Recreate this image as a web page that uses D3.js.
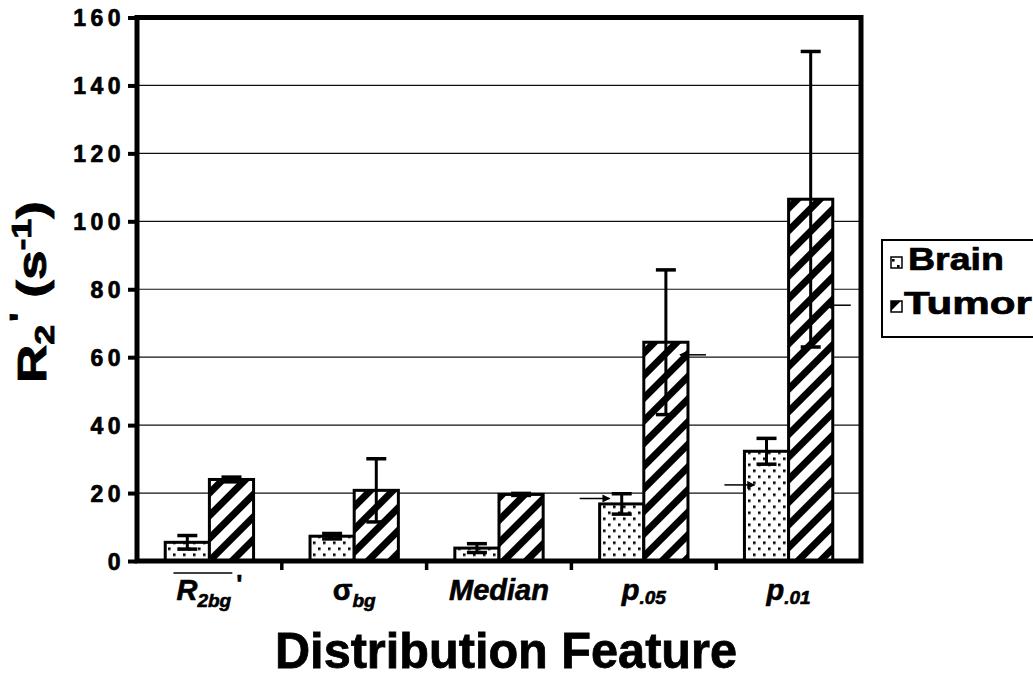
<!DOCTYPE html>
<html>
<head>
<meta charset="utf-8">
<script src="https://cdn.jsdelivr.net/npm/d3@7.9.0/dist/d3.min.js"></script>
<style>
  body { margin: 0; background: #fff; }
  svg { display: block; font-family: "Liberation Sans", Arial, sans-serif; }
</style>
</head>
<body>
<svg width="1033" height="690"></svg>
<script>
// values (R2' in s^-1)
const categories = ['R2bg', 'sigma', 'Median', 'p05', 'p01'];
const seriesNames = ['Brain', 'Tumor'];
const brainValues = [5.5, 7.3, 3.8, 16.8, 32.3];
const brainErrors = [2.0, 0.8, 1.3, 3.0, 3.8];
const tumorValues = [24.0, 20.8, 19.6, 64.4, 106.5];
const tumorErrors = [0.7, 9.3, 0.3, 21.3, 43.5];
const yTicks = [0, 20, 40, 60, 80, 100, 120, 140, 160];
// small arrows drawn onto some bars
const arrowCats = ['p05', 'p01', 'p05', 'p01'];
const arrowSeries = ['Brain', 'Brain', 'Tumor', 'Tumor'];
const arrowValues = [18.4, 22.4, 60.7, 75.3];

const svg = d3.select('svg');
const margin = { top: 17.5, right: 172, bottom: 129, left: 137 };
const W = 1033 - margin.left - margin.right;
const H = 690 - margin.top - margin.bottom;

const x = d3.scaleBand().domain(categories).range([0, W]).paddingInner(0.39).paddingOuter(0.195);
const xs = d3.scaleBand().domain(seriesNames).range([0, x.bandwidth()]);
const y = d3.scaleLinear().domain([0, 160]).range([H, 0]);

const rows = seriesNames.flatMap((s) => categories.map((c, i) => ({
  cat: c, series: s,
  value: s === 'Brain' ? brainValues[i] : tumorValues[i],
  err: s === 'Brain' ? brainErrors[i] : tumorErrors[i],
})));

// patterns
const defs = svg.append('defs');
let dots = defs.append('pattern').attr('id', 'dots')
  .attr('patternUnits', 'userSpaceOnUse').attr('width', 10).attr('height', 12);
dots.append('rect').attr('width', 10).attr('height', 12).attr('fill', '#fff');
dots.append('rect').attr('x', 1).attr('y', 2).attr('width', 2.6).attr('height', 2.6).attr('fill', '#000');
dots.append('rect').attr('x', 6).attr('y', 8).attr('width', 2.6).attr('height', 2.6).attr('fill', '#000');

let stripes = defs.append('pattern').attr('id', 'stripes')
  .attr('patternUnits', 'userSpaceOnUse').attr('width', 16).attr('height', 16)
  .attr('patternTransform', 'rotate(45)');
stripes.append('rect').attr('width', 16).attr('height', 16).attr('fill', '#fff');
stripes.append('rect').attr('width', 7).attr('height', 16).attr('fill', '#000');

defs.append('marker').attr('id', 'head')
  .attr('viewBox', '0 0 10 10').attr('refX', 9).attr('refY', 5)
  .attr('markerWidth', 10).attr('markerHeight', 8).attr('markerUnits', 'userSpaceOnUse')
  .attr('orient', 'auto')
  .append('path').attr('d', 'M0,0L10,5L0,10z').attr('fill', '#000');

const fillFor = (s) => s === 'Brain' ? 'url(#dots)' : 'url(#stripes)';

const g = svg.append('g').attr('transform', `translate(${margin.left},${margin.top})`);

// gridlines
g.append('g').selectAll('line').data(yTicks.slice(1, -1)).join('line')
  .attr('x1', 0).attr('x2', W)
  .attr('y1', (d) => y(d)).attr('y2', (d) => y(d))
  .attr('stroke', '#111').attr('stroke-width', 1.2);

// y axis
const yAxis = g.append('g').call(d3.axisLeft(y).tickValues(yTicks).tickSize(9).tickPadding(3));
yAxis.select('.domain').remove();
yAxis.selectAll('.tick line').attr('stroke', '#000').attr('stroke-width', 4);
yAxis.selectAll('.tick text')
  .attr('font-family', '"Liberation Sans", Arial, sans-serif')
  .attr('font-size', 23).attr('font-weight', 'bold').attr('fill', '#000')
  .attr('stroke', '#000').attr('stroke-width', 0.7)
  .attr('letter-spacing', 4.5).attr('dy', '0.36em');

// category ticks under the axis
g.append('g').selectAll('line').data(categories.slice(1)).join('line')
  .attr('x1', (d) => x(d) - x.step() * x.paddingInner() / 2)
  .attr('x2', (d) => x(d) - x.step() * x.paddingInner() / 2)
  .attr('y1', H).attr('y2', H + 9)
  .attr('stroke', '#000').attr('stroke-width', 3.5);

// bars
g.append('g').selectAll('rect').data(rows).join('rect')
  .attr('x', (d) => x(d.cat) + xs(d.series))
  .attr('width', xs.bandwidth())
  .attr('y', (d) => y(d.value))
  .attr('height', (d) => y(0) - y(d.value))
  .attr('fill', (d) => fillFor(d.series))
  .attr('stroke', '#000').attr('stroke-width', 3);

// error bars
const eb = g.append('g').selectAll('g').data(rows).join('g')
  .attr('transform', (d) => `translate(${x(d.cat) + xs(d.series) + xs.bandwidth() / 2},0)`);
eb.append('line')
  .attr('y1', (d) => y(d.value - d.err)).attr('y2', (d) => y(d.value + d.err))
  .attr('stroke', '#000').attr('stroke-width', 3);
eb.append('line')
  .attr('x1', -10).attr('x2', 10)
  .attr('y1', (d) => y(d.value + d.err)).attr('y2', (d) => y(d.value + d.err))
  .attr('stroke', '#000').attr('stroke-width', 3.5);
eb.append('line')
  .attr('x1', -10).attr('x2', 10)
  .attr('y1', (d) => y(d.value - d.err)).attr('y2', (d) => y(d.value - d.err))
  .attr('stroke', '#000').attr('stroke-width', 3.5);

// arrows
arrowValues.forEach((v, i) => {
  const left = x(arrowCats[i]) + xs(arrowSeries[i]);
  const fromLeft = arrowSeries[i] === 'Brain';
  const edge = fromLeft ? left : left + xs.bandwidth();
  const x0 = fromLeft ? edge - 20 : edge + 18;
  const x1 = fromLeft ? edge + 10 : edge - 8;
  g.append('line')
    .attr('x1', x0).attr('x2', x1).attr('y1', y(v)).attr('y2', y(v))
    .attr('stroke', '#000').attr('stroke-width', 1.5)
    .attr('marker-end', 'url(#head)');
});

// frame
g.append('rect').attr('width', W).attr('height', H)
  .attr('fill', 'none').attr('stroke', '#000').attr('stroke-width', 5);

// x labels
const labY = H + 39;
const lab = g.append('g').attr('font-weight', 'bold').attr('font-style', 'italic')
  .attr('font-size', 29).attr('text-anchor', 'middle').attr('fill', '#000')
  .attr('stroke', '#000').attr('stroke-width', 0.6);
const cx = (c) => x(c) + x.bandwidth() / 2;

let t1 = lab.append('text').attr('x', cx('R2bg')).attr('y', labY);
t1.append('tspan').text('R');
t1.append('tspan').attr('font-size', 19).attr('dy', 7).text('2bg');
t1.append('tspan').attr('font-size', 26).attr('dy', -14).attr('dx', 5).attr('font-style', 'normal').text('\'');
const bb = t1.node().getBBox();
g.append('line').attr('x1', bb.x - 3).attr('x2', bb.x + bb.width - 10)
  .attr('y1', labY - 27).attr('y2', labY - 27)
  .attr('stroke', '#000').attr('stroke-width', 1.5);

let t2 = lab.append('text').attr('x', cx('sigma')).attr('y', labY);
t2.append('tspan').attr('font-style', 'normal').text('\u03c3');
t2.append('tspan').attr('font-size', 19).attr('dy', 7).text('bg');

lab.append('text').attr('x', cx('Median')).attr('y', labY).text('Median');

let t4 = lab.append('text').attr('x', cx('p05')).attr('y', labY);
t4.append('tspan').text('p');
t4.append('tspan').attr('font-size', 19).attr('dy', 4).text('.05');

let t5 = lab.append('text').attr('x', cx('p01')).attr('y', labY);
t5.append('tspan').text('p');
t5.append('tspan').attr('font-size', 19).attr('dy', 4).text('.01');

// axis titles
svg.append('text').attr('x', 506).attr('y', 668)
  .attr('text-anchor', 'middle').attr('font-weight', 'bold').attr('font-size', 50)
  .attr('stroke', '#000').attr('stroke-width', 0.8)
  .attr('textLength', 462).attr('lengthAdjust', 'spacingAndGlyphs')
  .text('Distribution Feature');

const yt = svg.append('text')
  .attr('transform', 'translate(46,292) rotate(-90)')
  .attr('text-anchor', 'middle').attr('font-weight', 'bold').attr('font-size', 40)
  .attr('stroke', '#000').attr('stroke-width', 0.8)
  .attr('textLength', 182).attr('lengthAdjust', 'spacingAndGlyphs');
yt.append('tspan').text('R');
yt.append('tspan').attr('font-size', 27).attr('dy', 8).text('2');
yt.append('tspan').attr('font-size', 30).attr('dy', -24).attr('dx', 2).text('\'');
yt.append('tspan').attr('dy', 16).text(' (s');
yt.append('tspan').attr('font-size', 27).attr('dy', -15).text('-1');
yt.append('tspan').attr('dy', 15).text(')');

// legend
const lg = svg.append('g');
lg.append('rect').attr('x', 882).attr('y', 240).attr('width', 160).attr('height', 97)
  .attr('fill', '#fff').attr('stroke', '#000').attr('stroke-width', 2);
const li = lg.selectAll('g.item').data(seriesNames).join('g').attr('class', 'item')
  .attr('transform', (d, i) => `translate(891,${257 + i * 44})`);
li.append('rect').attr('width', 11).attr('height', 11)
  .attr('fill', (d) => fillFor(d)).attr('stroke', '#000').attr('stroke-width', 1.5);
li.append('text').attr('x', (d) => d === 'Brain' ? 17 : 13).attr('y', 13)
  .attr('font-weight', 'bold').attr('font-size', 31)
  .attr('stroke', '#000').attr('stroke-width', 0.7)
  .attr('textLength', (d) => d === 'Brain' ? 96 : 128).attr('lengthAdjust', 'spacingAndGlyphs')
  .text((d) => d);
</script>
</body>
</html>
